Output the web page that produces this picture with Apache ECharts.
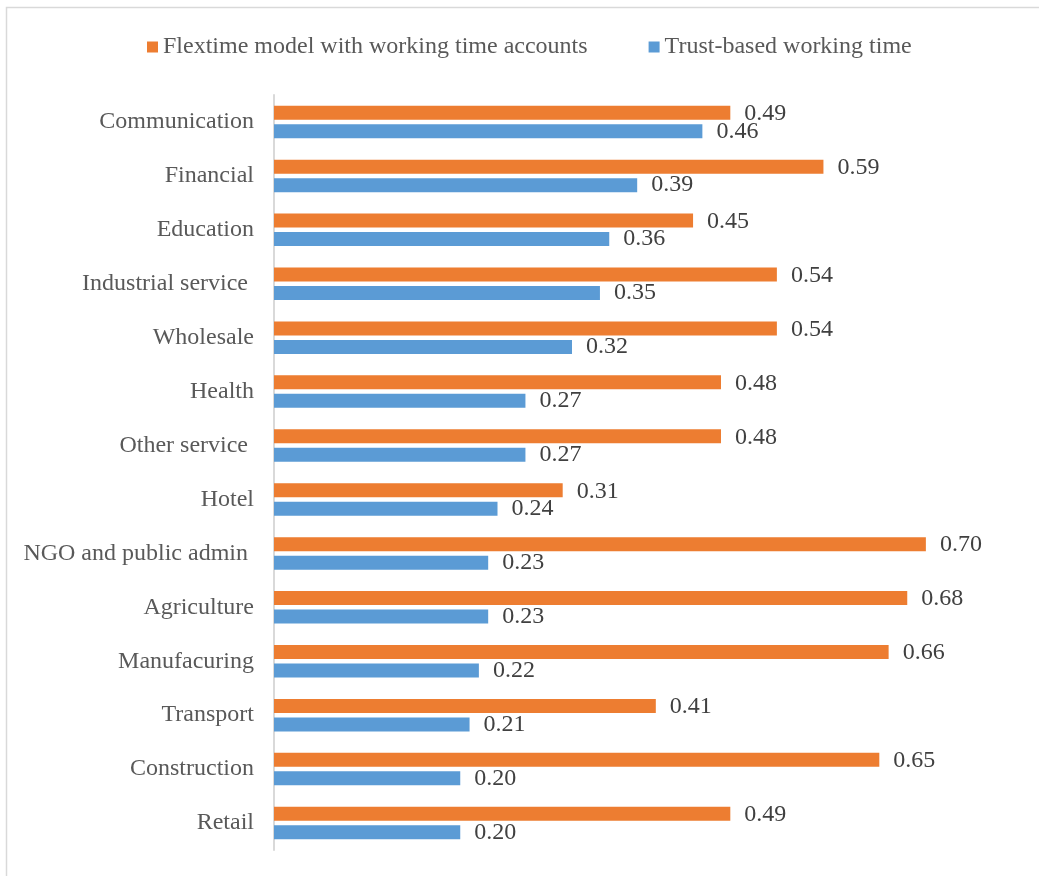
<!DOCTYPE html>
<html>
<head>
<meta charset="utf-8">
<script src="https://cdn.jsdelivr.net/npm/echarts@6/dist/echarts.min.js"></script>
<style>
  html, body { margin: 0; padding: 0; background: #fff; }
  #chart { width: 1039px; height: 876px; }
</style>
</head>
<body>
<div id="chart"></div>
<script>
// Sectors, top to bottom (trailing spaces kept as in the source labels)
const categories = [
  'Communication', 'Financial', 'Education', 'Industrial service ', 'Wholesale',
  'Health', 'Other service ', 'Hotel', 'NGO and public admin ', 'Agriculture',
  'Manufacuring', 'Transport', 'Construction', 'Retail'
];
const flextimeValues = [0.49, 0.59, 0.45, 0.54, 0.54, 0.48, 0.48, 0.31, 0.70, 0.68, 0.66, 0.41, 0.65, 0.49];
const trustValues    = [0.46, 0.39, 0.36, 0.35, 0.32, 0.27, 0.27, 0.24, 0.23, 0.23, 0.22, 0.21, 0.20, 0.20];
const seriesNames = ['Flextime model with working time accounts', 'Trust-based working time'];

const FONT = '"Liberation Serif", "Times New Roman", serif';

const chart = echarts.init(document.getElementById('chart'), null, { renderer: 'canvas' });

function valueLabel(dy) {
  return {
    show: true,
    position: 'right',
    distance: 14,
    offset: [0, dy],
    fontFamily: FONT,
    fontSize: 24,
    color: '#404040',
    formatter: p => p.value.toFixed(2)
  };
}

chart.setOption({
  backgroundColor: '#ffffff',
  animation: false,
  graphic: [{
    type: 'rect',
    silent: true,
    shape: { x: 6.5, y: 7.5, width: 1200, height: 1000 },
    style: { fill: 'none', stroke: '#d9d9d9', lineWidth: 1.5 }
  }],
  legend: {
    top: 30,
    left: 142,
    icon: 'rect',
    itemWidth: 11,
    itemHeight: 11,
    itemGap: 61,
    textStyle: { fontFamily: FONT, fontSize: 24, color: '#595959' },
    data: seriesNames
  },
  grid: { left: 274, top: 95, width: 745, height: 755, containLabel: false },
  xAxis: {
    type: 'value',
    min: 0,
    max: 0.8,
    show: false
  },
  yAxis: {
    type: 'category',
    inverse: true,
    data: categories,
    axisLine: { show: true, lineStyle: { color: '#d9d9d9', width: 2 } },
    axisTick: { show: false },
    splitLine: { show: false },
    axisLabel: { margin: 20, padding: [4, 0, 0, 0], fontFamily: FONT, fontSize: 24, color: '#595959' }
  },
  series: [
    {
      name: seriesNames[0],
      type: 'bar',
      data: flextimeValues,
      barWidth: 14,
      barGap: '32%',
      itemStyle: { color: '#ED7D31' },
      label: valueLabel(1)
    },
    {
      name: seriesNames[1],
      type: 'bar',
      data: trustValues,
      barWidth: 14,
      itemStyle: { color: '#5B9BD5' },
      label: valueLabel(0)
    }
  ]
});
</script>
</body>
</html>
